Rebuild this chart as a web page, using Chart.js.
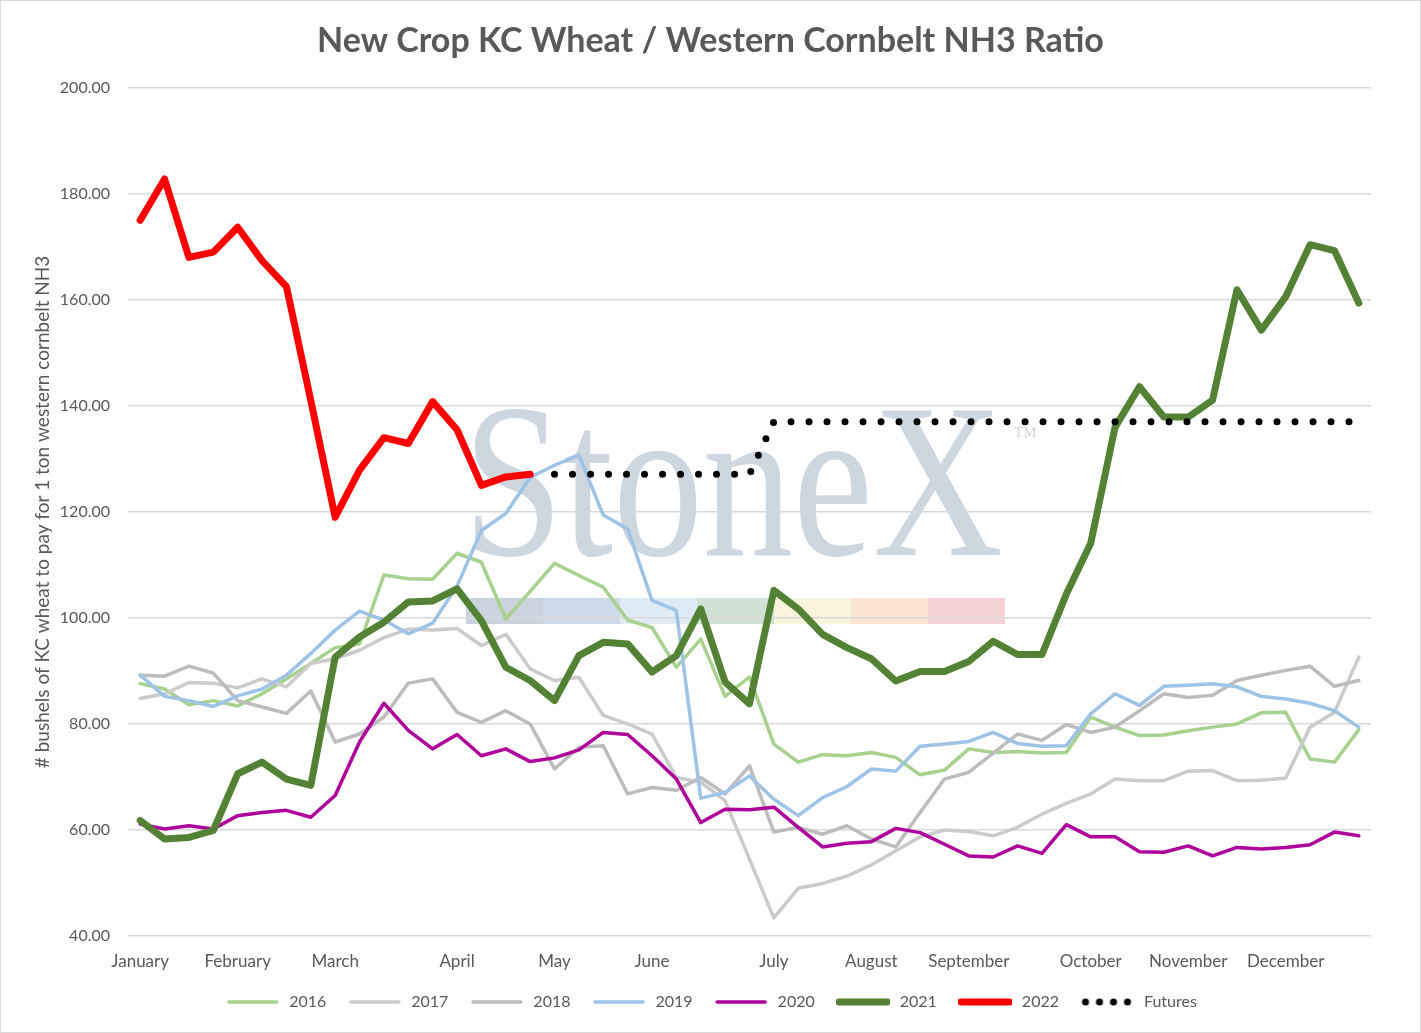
<!DOCTYPE html>
<html>
<head>
<meta charset="utf-8">
<title>New Crop KC Wheat / Western Cornbelt NH3 Ratio</title>
<script src="https://cdn.jsdelivr.net/npm/chart.js@4.4.1/dist/chart.umd.min.js"></script>
<style>
  html, body { margin: 0; padding: 0; background: #fff; }
  canvas { display: block; }
</style>
</head>
<body>
<canvas id="ratioChart" width="1421" height="1033"></canvas>
<script>
// Weekly points, Jan -> Dec (51 weeks)
const monthNames = ['January', 'February', 'March', 'April', 'May', 'June',
                    'July', 'August', 'September', 'October', 'November', 'December'];
const monthStartWeek = [0, 4, 8, 13, 17, 21, 26, 30, 34, 39, 43, 47];
const weekCount = 51;

const y2016 = [87.6, 86.6, 83.6, 84.4, 83.4, 85.7, 88.5, 91.4, 94.4, 95.1, 108.1, 107.4, 107.3, 112.2, 110.5, 99.8, 105,
               110.3, 108, 105.8, 99.6, 98.2, 90.7, 96, 85.2, 88.9, 76.2, 72.8, 74.2, 74, 74.6, 73.7, 70.4, 71.3,
               75.3, 74.6, 74.8, 74.5, 74.6, 81.3, 79.4, 77.8, 77.9, 78.7, 79.4, 80, 82.1, 82.2, 73.4, 72.8, 78.9];
const y2017 = [84.8, 85.7, 87.8, 87.7, 86.8, 88.5, 87, 91.4, 92.3, 93.9, 96.3, 97.9, 97.7, 98, 94.8, 96.9, 90.4,
               88.2, 88.8, 81.6, 80, 78.1, 69.9, 69, 65.5, 54.5, 43.4, 49, 49.9, 51.3, 53.4, 56.1, 58.7, 60,
               59.7, 58.9, 60.5, 63, 65, 66.8, 69.6, 69.3, 69.3, 71.1, 71.2, 69.3, 69.4, 69.8, 79.4, 82.2, 92.6];
const y2018 = [89.2, 89, 90.9, 89.6, 84.4, 83.2, 82, 86.2, 76.6, 78.1, 81.3, 87.7, 88.5, 82.2, 80.3, 82.5, 80,
               71.5, 75.6, 75.9, 66.8, 68, 67.5, 69.9, 66.8, 72.1, 59.6, 60.5, 59.2, 60.8, 58.3, 56.8, 63.3, 69.6,
               70.9, 74.5, 78.1, 76.9, 79.9, 78.4, 79.4, 82.5, 85.7, 85, 85.4, 88.2, 89.2, 90.1, 90.9, 87.1, 88.2];
const y2019 = [89.2, 85.2, 84.4, 83.3, 85.3, 86.6, 89.2, 93.3, 97.7, 101.3, 99.6, 97, 99, 106, 116.5, 119.7, 126.5,
               128.8, 130.7, 119.4, 116.8, 103.3, 101.4, 66, 67.1, 70.2, 65.8, 62.7, 66.1, 68.2, 71.5, 71.1, 75.8,
               76.2, 76.7, 78.4, 76.3, 75.8, 75.9, 81.9, 85.7, 83.5, 87.1, 87.3, 87.6, 87, 85.2, 84.7, 83.9, 82.5, 79.4];
const y2020 = [61.1, 60.2, 60.8, 60.2, 62.7, 63.3, 63.7, 62.4, 66.5, 76.6, 83.9, 78.8, 75.3, 78, 74, 75.3, 72.9,
               73.6, 75.1, 78.4, 78, 74, 69.6, 61.4, 63.9, 63.8, 64.3, 60.5, 56.8, 57.5, 57.8, 60.3, 59.5, 57.3,
               55.1, 54.9, 57, 55.6, 61, 58.7, 58.7, 55.9, 55.8, 57, 55.1, 56.7, 56.4, 56.7, 57.2, 59.6, 58.9];
const y2021 = [61.8, 58.3, 58.6, 59.9, 70.6, 72.8, 69.6, 68.4, 92.6, 96.4, 99.2, 103, 103.2, 105.5, 99.5, 90.7, 88.2,
               84.4, 92.9, 95.4, 95.1, 89.8, 92.9, 101.7, 87.9, 83.8, 105.2, 101.7, 96.9, 94.4, 92.3, 88.1, 89.9,
               89.9, 91.8, 95.6, 93.1, 93.1, 104.5, 114.1, 136, 143.6, 137.9, 137.9, 141.1, 161.9, 154.3, 160.6,
               170.4, 169.3, 159.4];
const y2022 = [175, 182.8, 168, 169, 173.7, 167.4, 162.5, 141, 119, 127.9, 134, 132.9, 140.8, 135.5, 125, 126.6, 127.1];
const futures = [null, null, null, null, null, null, null, null, null, null, null, null, null, null, null, null, null,
                 127.1, 127.1, 127.1, 127.1, 127.1, 127.1, 127.1, 127.1, 127.1, 137, 137, 137, 137, 137, 137, 137,
                 137, 137, 137, 137, 137, 137, 137, 137, 137, 137, 137, 137, 137, 137, 137, 137, 137, 137];

const yTicks = [40, 60, 80, 100, 120, 140, 160, 180, 200];

const weekLabels = [];
for (let i = 0; i < weekCount; i++) {
    const m = monthStartWeek.indexOf(i);
    weekLabels.push(m >= 0 ? monthNames[m] : '');
}

const textColor = '#595959';
const fontFamily = 'Lato, "Open Sans", sans-serif';

function line(label, data, color, width, order) {
    return {
        label, data, order,
        borderColor: color, backgroundColor: color,
        borderWidth: width, pointRadius: 0, tension: 0,
        borderCapStyle: 'round', borderJoinStyle: 'round',
        fill: false
    };
}

const datasets = [
    line('2016', y2016, '#a9d18e', 3.5, 7),
    line('2017', y2017, '#cbcbcb', 3.5, 6),
    line('2018', y2018, '#bcbcbc', 3.5, 5),
    line('2019', y2019, '#9dc3e6', 3.5, 4),
    line('2020', y2020, '#b0009c', 3.5, 3),
    line('2021', y2021, '#548235', 7, 2),
    line('2022', y2022, '#ff0000', 7, 1),
    Object.assign(line('Futures', futures, '#000000', 7, 0), { borderDash: [0, 18] })
];

// little swatches for the legend
function swatch(ds) {
    const c = document.createElement('canvas');
    c.width = 54; c.height = 10;
    const g = c.getContext('2d');
    g.fillStyle = ds.borderColor;
    g.strokeStyle = ds.borderColor;
    if (ds.borderDash) {
        [5, 19, 33, 47].forEach(x => { g.beginPath(); g.arc(x, 5, 3.5, 0, Math.PI * 2); g.fill(); });
    } else {
        g.lineWidth = ds.borderWidth;
        g.lineCap = 'round';
        g.beginPath(); g.moveTo(3, 5); g.lineTo(51, 5); g.stroke();
    }
    return c;
}

// StoneX watermark + white background + outer border
const backdrop = {
    id: 'backdrop',
    beforeDraw(chart) {
        const { ctx, width, height } = chart;
        ctx.save();
        ctx.fillStyle = '#ffffff';
        ctx.fillRect(0, 0, width, height);

        const strip = ['#cbd3de', '#ccd9e9', '#deebf5', '#d0e1d7', '#f8f5dc', '#fbe7d1', '#f2d2d5'];
        strip.forEach((c, k) => {
            ctx.fillStyle = c;
            ctx.fillRect(466 + k * 77, 598, 77, 26);
        });

        ctx.fillStyle = '#ced6e0';
        ctx.font = '220px "Liberation Serif", "DejaVu Serif", serif';
        ctx.textBaseline = 'alphabetic';
        const w = ctx.measureText('StoneX').width;
        ctx.save();
        ctx.translate(463, 555);
        ctx.scale(540 / w, 1);
        ctx.fillText('StoneX', 0, 0);
        ctx.restore();
        ctx.font = '15px "Liberation Serif", serif';
        ctx.fillText('TM', 1014, 437);
        ctx.restore();
    },
    afterDraw(chart) {
        const { ctx, width, height } = chart;
        ctx.save();
        ctx.strokeStyle = '#d9d9d9';
        ctx.lineWidth = 1;
        ctx.strokeRect(0.5, 0.5, width - 1, height - 1);
        ctx.restore();
    }
};

new Chart(document.getElementById('ratioChart'), {
    type: 'line',
    data: { labels: weekLabels, datasets },
    plugins: [backdrop],
    options: {
        responsive: false,
        animation: false,
        layout: { padding: { left: 0, right: 0, top: 0, bottom: 13 } },
        plugins: {
            title: {
                display: true,
                text: 'New Crop KC Wheat / Western Cornbelt NH3 Ratio',
                color: textColor,
                font: { family: fontFamily, size: 34, weight: 'bold', lineHeight: 1.2 },
                padding: { top: 21, bottom: 26 }
            },
            legend: {
                position: 'bottom',
                labels: {
                    usePointStyle: true,
                    pointStyleWidth: 57,
                    padding: 20,
                    color: textColor,
                    font: { family: fontFamily, size: 16 },
                    generateLabels: chart => chart.data.datasets.map((ds, i) => ({
                        text: ds.label,
                        pointStyle: swatch(ds),
                        fontColor: textColor,
                        lineWidth: 0,
                        strokeStyle: 'transparent',
                        fillStyle: 'transparent',
                        datasetIndex: i,
                        hidden: false
                    }))
                }
            },
            tooltip: { enabled: false }
        },
        scales: {
            x: {
                offset: true,
                grid: { display: false, drawTicks: false },
                border: { display: false },
                ticks: {
                    autoSkip: false, maxRotation: 0, padding: 15,
                    color: textColor,
                    font: { family: fontFamily, size: 17 }
                },
                afterFit: s => { s.height = 38; }
            },
            y: {
                min: 40, max: 200,
                afterBuildTicks: s => { s.ticks = yTicks.map(v => ({ value: v })); },
                grid: { color: '#d9d9d9', lineWidth: 1.5, drawTicks: false },
                border: { display: false },
                ticks: {
                    padding: 18,
                    color: textColor,
                    font: { family: fontFamily, size: 16 },
                    callback: v => v.toFixed(2)
                },
                title: {
                    display: true,
                    text: '# bushels of KC wheat to pay for 1 ton western cornbelt NH3',
                    color: textColor,
                    font: { family: fontFamily, size: 19 },
                    padding: { top: 31, bottom: 0 }
                },
                afterFit: s => { s.width = 128; }
            },
            // empty right-hand strip so the plot stops where the reference does
            right: {
                position: 'right',
                min: 40, max: 200,
                grid: { display: false, drawTicks: false },
                border: { display: false },
                ticks: { display: false },
                afterFit: s => { s.width = 50; }
            }
        }
    }
});
</script>
</body>
</html>
